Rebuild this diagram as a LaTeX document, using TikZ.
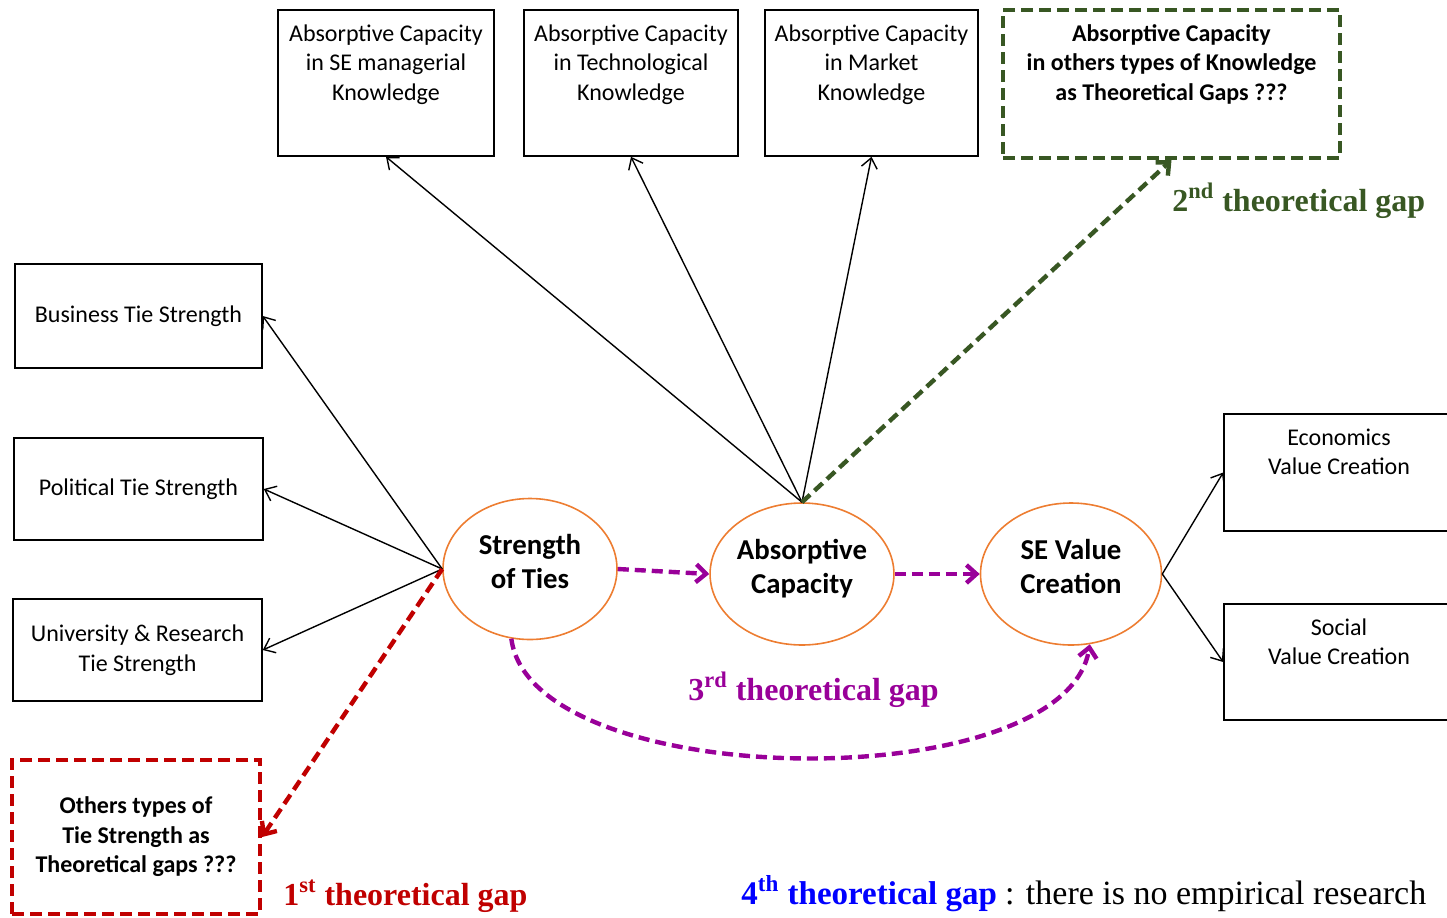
\documentclass[tikz,border=0pt]{standalone}
\usepackage{fontspec}
\setmainfont{Liberation Serif}
\newfontfamily\calibri{Carlito}
\usetikzlibrary{arrows.meta,shapes.geometric}

\definecolor{tieorange}{HTML}{ED7D31}
\definecolor{gapred}{HTML}{C00000}
\definecolor{gapgreen}{HTML}{385723}
\definecolor{gappurple}{HTML}{990099}
\definecolor{gapblue}{HTML}{0000FF}

\begin{document}
\begin{tikzpicture}[x=0.5pt, y=-0.5pt,
  kbox/.style={draw, line width=0.8pt, align=center, inner xsep=0pt, font=\calibri\fontsize{12}{14.75}\selectfont},
  topbox/.style 2 args={kbox, inner ysep=5.5pt, text height=#1, text depth=#2},
  boldtext/.style={font=\calibri\bfseries\fontsize{12}{14.75}\selectfont},
  gapbox/.style={draw=#1, line width=2pt, dash pattern=on 6pt off 3pt},
  tie/.style={ellipse, draw=tieorange, line width=0.8pt, inner sep=0pt, text depth=8pt, align=center, font=\calibri\bfseries\fontsize{14.4}{17}\selectfont},
  lnk/.style={-{Straight Barb[length=5pt,width=8pt]}, line width=0.7pt},
  gap/.style={-{Straight Barb[length=5pt,width=9pt]}, line width=2.2pt, dash pattern=on 5.5pt off 3pt, draw=#1},
  gaplabel/.style={anchor=base west, inner sep=0pt, font=\bfseries\fontsize{16}{19}\selectfont}]

  \useasboundingbox (0,0) rectangle (1447,917);

  % knowledge boxes on top
  \node[topbox={39.5pt}{22.5pt}, minimum width=108pt] (acse) at (386,83) {Absorptive Capacity\\in SE managerial\\Knowledge};
  \node[topbox={39.5pt}{22.5pt}, minimum width=107pt] (actech) at (631,83) {Absorptive Capacity\\in Technological\\Knowledge};
  \node[topbox={39.5pt}{22.5pt}, minimum width=106.5pt] (acmkt) at (871.5,83) {Absorptive Capacity\\in Market\\Knowledge};
  \node[topbox={39.5pt}{23.5pt}, minimum width=168.5pt, boldtext, gapbox=gapgreen] (acother) at (1171.5,84) {Absorptive Capacity\\in others types of Knowledge\\as Theoretical Gaps ???};

  % tie boxes on the left
  \node[kbox, minimum width=123.5pt, minimum height=52pt] (bts) at (138.5,316) {Business Tie Strength};
  \node[kbox, minimum width=124.5pt, minimum height=51pt] (pts) at (138.5,489) {Political Tie Strength};
  \node[kbox, minimum width=124.5pt, minimum height=51pt] (urts) at (137.5,650) {University \& Research\\Tie Strength};
  \node[kbox, minimum width=124pt, minimum height=77pt, boldtext, gapbox=gapred] (ots) at (136,837) {Others types of\\Tie Strength as\\Theoretical gaps ???};

  % value boxes on the right
  \node[topbox={24.75pt}{22.75pt}, minimum width=115pt] (evc) at (1339,472.5) {Economics\\Value Creation};
  \node[topbox={24.75pt}{22.25pt}, minimum width=115pt] (svc) at (1339,662) {Social\\Value Creation};

  % main constructs
  \node[tie, minimum width=87pt, minimum height=70.5pt] (sot) at (530,569) {Strength\\of Ties};
  \node[tie, minimum width=89pt, minimum height=71pt] (abc) at (802,574) {Absorptive\\Capacity};
  \node[tie, minimum width=90.5pt, minimum height=71pt] (sev) at (1071,574) {SE Value\\Creation};

  \draw[lnk] (sot.west) -- (bts.east);
  \draw[lnk] (sot.west) -- (pts.east);
  \draw[lnk] (sot.west) -- (urts.east);

  \draw[lnk] (abc.north) -- (acse.south);
  \draw[lnk] (abc.north) -- (actech.south);
  \draw[lnk] (abc.north) -- (acmkt.south);

  \draw[lnk] (sev.east) -- (evc.west);
  \draw[lnk] (sev.east) -- (svc.west);

  % theoretical gaps
  \draw[gap=gapred] (sot.west) -- (ots.east);
  \draw[gap=gapgreen] (abc.north) -- (acother.south);
  \draw[gap=gappurple] (sot.east) -- (abc.west);
  \draw[gap=gappurple] (abc.east) -- (sev.west);
  \draw[gap=gappurple] (sot.255) .. controls +(20,155) and +(-25,155) .. (sev.285);

  \node[gaplabel, text=gapgreen] (gap2) at (1172,211) {2\textsuperscript{nd} theoretical gap};
  \node[gaplabel, text=gappurple] (gap3) at (688,700) {3\textsuperscript{rd} theoretical gap};
  \node[gaplabel, text=gapred] (gap1) at (283,905) {1\textsuperscript{st} theoretical gap};
  \node[gaplabel, font=\bfseries\fontsize{16.5}{19}\selectfont] (gap4) at (741,904) {\textcolor{gapblue}{4\textsuperscript{th} theoretical gap}\ {\mdseries\fontsize{17}{20}\selectfont: there is no empirical research}};

\end{tikzpicture}
\end{document}
